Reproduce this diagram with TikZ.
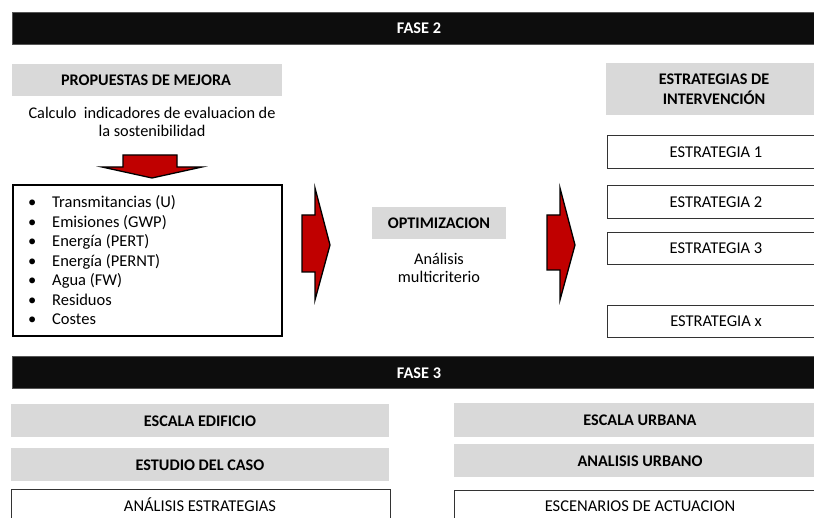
\documentclass[tikz,border=0pt]{standalone}
\usepackage{fontspec}
\setmainfont{Carlito}
\definecolor{hdrgray}{HTML}{D9D9D9}
\definecolor{arrred}{HTML}{C00000}
\definecolor{barblack}{HTML}{0D0D0D}
\begin{document}
\begin{tikzpicture}[x=1pt,y=-1pt,
  bar/.style={fill=barblack,draw=barblack!70,line width=0.6pt},
  bartext/.style={text=white,font=\fontsize{16.3}{18}\selectfont\bfseries},
  hdr/.style={font=\fontsize{16.2}{20}\selectfont\bfseries,align=center},
  boxtext/.style={font=\fontsize{16.5}{18}\selectfont},
  plain/.style={font=\fontsize{16.3}{18.5}\selectfont,align=center},
  item/.style={font=\fontsize{16.5}{18}\selectfont,anchor=base west,inner sep=0pt},
  thinbox/.style={draw=black!80,line width=0.8pt},
  redarrow/.style={fill=arrred,draw=black,line width=1.3pt,line join=miter}]
\useasboundingbox (0,0) rectangle (814,518);
\clip (0,0) rectangle (814,518);
% FASE 2 bar
\draw[bar] (12,12) rectangle (818,44);
\node[bartext] (f2) at (419,28) {FASE 2};
% Propuestas
\fill[hdrgray] (12,64) rectangle (282,96);
\node[hdr] (prop) at (146,80) {PROPUESTAS DE MEJORA};
\node[plain] (calc) at (152,122) {Calculo\ \ indicadores de evaluacion de\\la sostenibilidad};
% down arrow
\draw[redarrow] (123,155) -- (177,155) -- (177,167) -- (202,167) -- (152,178) -- (102,167) -- (123,167) -- cycle;
% list box
\draw[black,line width=1.4pt] (13,185) rectangle (282,336);
\foreach \t [count=\i] in {Transmitancias (U),Emisiones (GWP),Energía (PERT),Energía (PERNT),Agua (FW),Residuos,Costes}{
  \node[item] (b\i) at (28,{208+19.5*(\i-1)}) {•};
  \node[item] (l\i) at (52,{208+19.5*(\i-1)}) {\t};
}
% right arrow 1
\draw[redarrow] (302,215) -- (315,215) -- (315,188) -- (330,245) -- (315,300) -- (315,272) -- (302,272) -- cycle;
% optimizacion
\fill[hdrgray] (372,207) rectangle (506,239);
\node[hdr] (opt) at (439,223) {OPTIMIZACION};
\node[plain] (anal) at (439,268) {Análisis\\multicriterio};
% right arrow 2
\draw[redarrow] (547,215) -- (560,215) -- (560,188) -- (575,245) -- (560,300) -- (560,270) -- (547,270) -- cycle;
% estrategias
\fill[hdrgray] (606,63) rectangle (816,115);
\node[hdr] (est) at (714,89) {ESTRATEGIAS DE\\INTERVENCIÓN};
\draw[thinbox] (607,135) rectangle (818,168);
\node[boxtext] (e1) at (716,152) {ESTRATEGIA 1};
\draw[thinbox] (607,185) rectangle (818,218);
\node[boxtext] (e2) at (716,202) {ESTRATEGIA 2};
\draw[thinbox] (607,232) rectangle (818,264);
\node[boxtext] (e3) at (716,248) {ESTRATEGIA 3};
\draw[thinbox] (607,305) rectangle (818,337);
\node[boxtext] (ex) at (716,321) {ESTRATEGIA x};
% FASE 3 bar
\draw[bar] (12,356) rectangle (818,388);
\node[bartext] (f3) at (419,373) {FASE 3};
% bottom left
\fill[hdrgray] (11,404) rectangle (389,437);
\node[hdr] (ee) at (200,421) {ESCALA EDIFICIO};
\fill[hdrgray] (11,448) rectangle (389,481);
\node[hdr] (ec) at (200,465) {ESTUDIO DEL CASO};
\draw[thinbox] (11,489) rectangle (390,530);
\node[boxtext] (ae) at (200,505) {ANÁLISIS ESTRATEGIAS};
% bottom right
\fill[hdrgray] (454,403) rectangle (818,437);
\node[hdr] (eu) at (640,420) {ESCALA URBANA};
\fill[hdrgray] (454,444) rectangle (818,477);
\node[hdr] (au) at (640,461) {ANALISIS URBANO};
\draw[thinbox] (454,490) rectangle (818,530);
\node[boxtext] (sa) at (640,506) {ESCENARIOS DE ACTUACION};
\end{tikzpicture}
\end{document}
